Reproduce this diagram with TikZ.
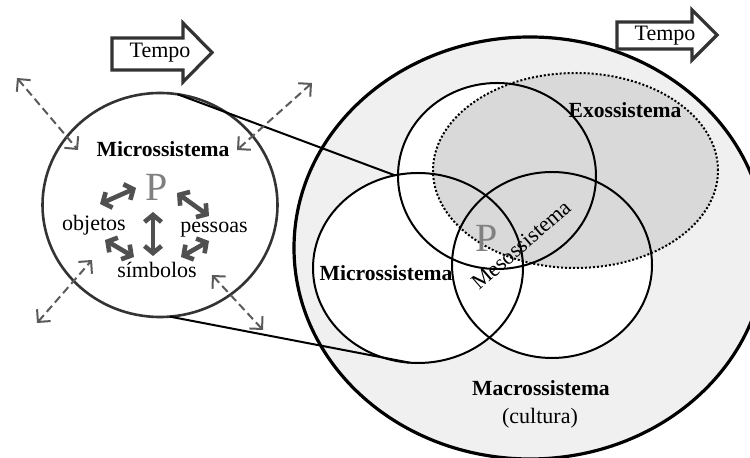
\documentclass[tikz,border=0pt]{standalone}
\usepackage{fontspec}
\setmainfont{Liberation Serif}
\usetikzlibrary{arrows.meta,shapes.geometric,positioning}
\definecolor{pgray}{HTML}{808080}
\definecolor{dgray}{HTML}{5A5A5A}
\definecolor{rgray}{HTML}{505050}
\definecolor{tgray}{HTML}{333333}
\definecolor{macrofill}{HTML}{F0F0F0}
\definecolor{exofill}{HTML}{D9D9D9}

\begin{document}
\begin{tikzpicture}[x=0.5pt,y=-0.5pt,
  sys/.style={ellipse,draw,line width=1pt,inner sep=0pt,outer sep=0pt},
  lbl/.style={font=\fontsize{10.8}{13}\selectfont\bfseries},
  obj/.style={font=\fontsize{11}{13}\selectfont},
  pess/.style={font=\fontsize{20}{22}\selectfont,text=pgray},
  dasharrow/.style={dashed,dash pattern=on 4pt off 2.2pt,line width=1pt,draw=dgray,
    {Straight Barb[length=4.5pt,width=9pt]}-{Straight Barb[length=4.5pt,width=9pt]}},
  relarrow/.style={line width=2.3pt,draw=rgray,
    {Straight Barb[length=3.5pt,width=8.5pt]}-{Straight Barb[length=3.5pt,width=8.5pt]}},
  tempobox/.style={draw=tgray,line width=1.6pt,fill=white,line join=miter}]
  \useasboundingbox (0,0) rectangle (750,458);

  \node [sys,line width=1.6pt,fill=macrofill,minimum width=236pt,minimum height=211pt] (macro) at (530,248) {};
  \fill [white] (497,176) ellipse [x radius=99,y radius=93];
  \fill [white] (418,268) ellipse [x radius=105,y radius=95];
  \fill [white] (552,265) ellipse [x radius=100,y radius=93];
  \node [sys,draw=black,densely dotted,fill=exofill,minimum width=142.5pt,minimum height=97.5pt] (exo) at (575.5,170.5) {};
  \node [sys,minimum width=99pt,minimum height=93pt] (topc) at (497,176) {};
  \node [sys,minimum width=105pt,minimum height=95pt] (micro) at (418,268) {};
  \node [sys,minimum width=100pt,minimum height=93pt] (rightc) at (552,265) {};

  \node [sys,draw=tgray,line width=1.3pt,fill=white,minimum width=117.5pt,minimum height=112pt] (lcirc) at (160,205) {};
  \draw [line width=1pt] (lcirc.81) -- (micro.104);
  \draw [line width=1pt] (lcirc.-85) -- (micro.-95);

  \coordinate (da1) at (17,78);   \coordinate (db1) at (78,150);
  \coordinate (da2) at (312,83);  \coordinate (db2) at (237,150);
  \coordinate (da3) at (37,323);  \coordinate (db3) at (92,260);
  \coordinate (da4) at (263,330); \coordinate (db4) at (212,275);
  \foreach \i in {1,...,4}
    \draw [dasharrow] (da\i) -- (db\i);

  \draw [tempobox] (112,38) -- (183,38) -- (183,23) -- (212,52.5) -- (183,82) -- (183,70) -- (112,70) -- cycle;
  \node [obj] (tempoL) at (160,53) {Tempo};
  \draw [tempobox] (617,22) -- (692,22) -- (692,10) -- (717,35) -- (692,60) -- (692,49) -- (617,49) -- cycle;
  \node [obj] (tempoR) at (665,36) {Tempo};

  \node [lbl] (lmicro) at (163,149) {Microssistema};
  \node [pess] (lp) at (157,187) {P};
  \node [obj] (objetos) at (94,225) {objetos};
  \node [obj] (pessoas) at (214,230) {pessoas};
  \node [obj] (simbolos) at (157,270) {símbolos};

  \coordinate (ra1) at (100,204); \coordinate (rb1) at (136,188);
  \coordinate (ra2) at (177,193); \coordinate (rb2) at (209,216);
  \coordinate (ra3) at (153,212); \coordinate (rb3) at (153,256);
  \coordinate (ra4) at (105,240); \coordinate (rb4) at (134,257);
  \coordinate (ra5) at (181,257); \coordinate (rb5) at (209,241);
  \foreach \i in {1,...,5}
    \draw [relarrow] (ra\i) -- (rb\i);

  \node [lbl] (exotxt) at (625,110) {Exossistema};
  \node [lbl] (micotxt) at (386,273) {Microssistema};
  \node [pess] (rp) at (487,238) {P};
  \node [obj,rotate=41] (meso) at (521,245) {Mesossistema};
  \node [lbl] (macrotxt) at (541,388) {Macrossistema};
  \node [obj] (cultura) at (540,418) {(cultura)};
\end{tikzpicture}
\end{document}
